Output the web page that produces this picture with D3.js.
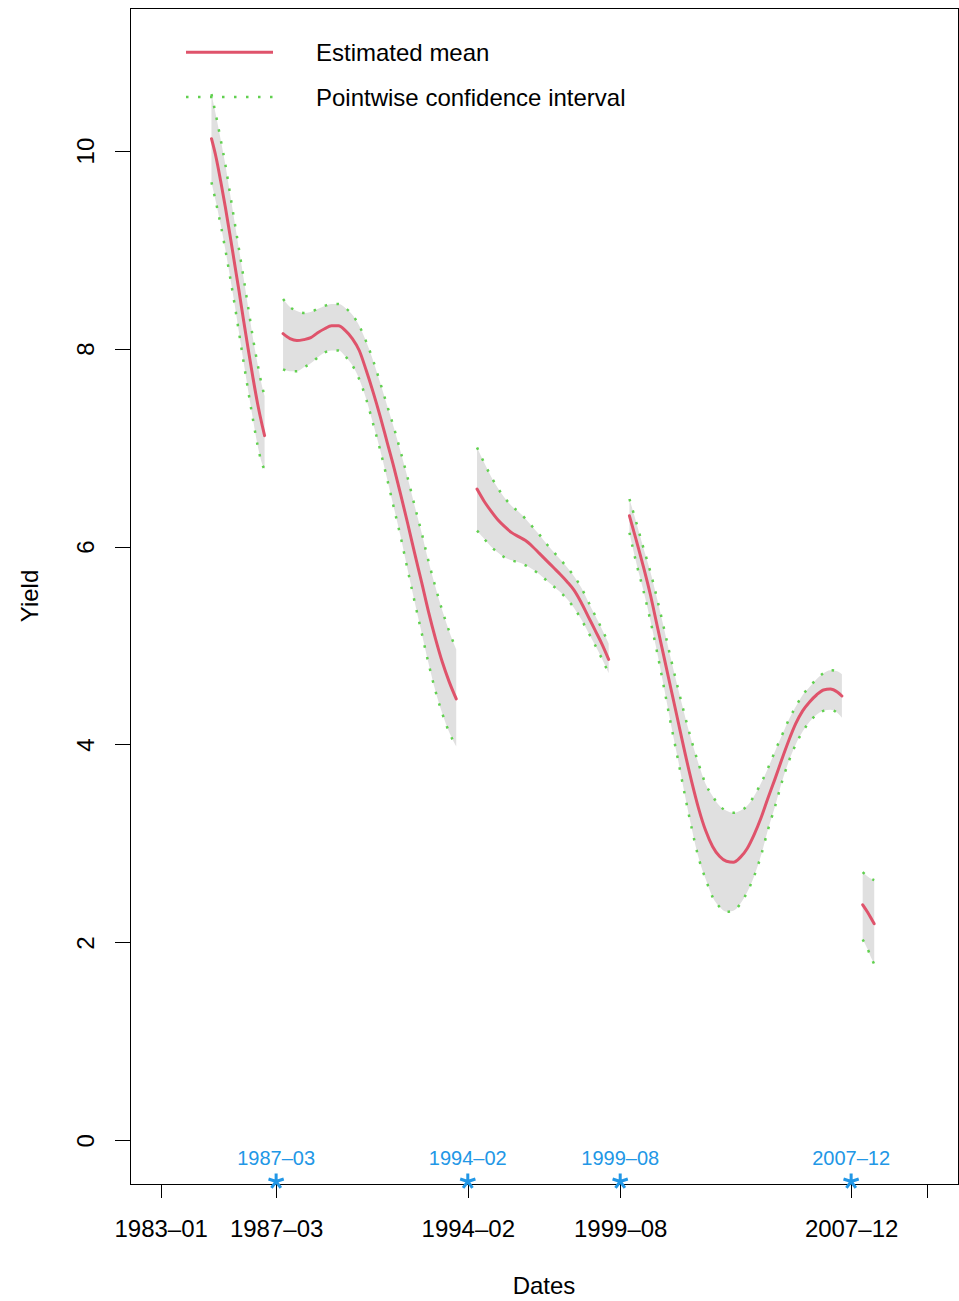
<!DOCTYPE html>
<html>
<head>
<meta charset="utf-8">
<script src="https://cdn.jsdelivr.net/npm/d3@7"></script>
<style>
  html, body { margin: 0; padding: 0; background: #ffffff; }
  svg { display: block; font-family: "Liberation Sans", Arial, Helvetica, sans-serif; }
</style>
</head>
<body>
<svg id="chart" width="959" height="1301"></svg>
<script>
// ---------------- DATA ----------------
// x-axis tick dates (the last tick's label is dropped because it would overlap)
const axisDates  = ["1983-01", "1987-03", "1994-02", "1999-08", "2007-12", "2010-09"];
const axisLabels = ["1983\u201301", "1987\u201303", "1994\u201302", "1999\u201308", "2007\u201312", "2010\u201309"];
// detected break dates (blue stars)
const breakDates  = ["1987-03", "1994-02", "1999-08", "2007-12"];
const breakLabels = ["1987\u201303", "1994\u201302", "1999\u201308", "2007\u201312"];
const yTicks = [0, 2, 4, 6, 8, 10];
const yLimits = [0, 11];

// Segment 1
const seg1Dates = ["1984-11","1985-01","1985-03","1985-05","1985-07","1985-09","1985-11","1986-01","1986-03","1986-05","1986-07","1986-09","1986-10"];
const seg1Mean  = [10.12, 9.93, 9.69, 9.43, 9.15, 8.86, 8.57, 8.27, 7.98, 7.70, 7.44, 7.22, 7.12];
const seg1Upper = [10.57, 10.35, 10.11, 9.86, 9.57, 9.28, 8.99, 8.70, 8.40, 8.10, 7.84, 7.61, 7.52];
const seg1Lower = [9.68, 9.47, 9.25, 9.00, 8.73, 8.45, 8.15, 7.85, 7.56, 7.28, 7.02, 6.83, 6.78];

// Segment 2
const seg2Dates = ["1987-06","1987-09","1987-12","1988-03","1988-06","1988-09","1988-12","1989-03","1989-06","1989-09","1989-12","1990-03","1990-06","1990-09","1990-12","1991-03","1991-06","1991-09","1991-12","1992-03","1992-06","1992-09","1992-12","1993-03","1993-06","1993-09"];
const seg2Mean  = [8.15, 8.10, 8.08, 8.09, 8.11, 8.16, 8.20, 8.23, 8.23, 8.18, 8.10, 7.98, 7.78, 7.56, 7.32, 7.06, 6.80, 6.52, 6.23, 5.93, 5.64, 5.34, 5.07, 4.83, 4.63, 4.46];
const seg2Upper = [8.50, 8.42, 8.38, 8.36, 8.37, 8.40, 8.43, 8.45, 8.45, 8.41, 8.34, 8.23, 8.07, 7.88, 7.66, 7.43, 7.20, 6.95, 6.69, 6.41, 6.14, 5.85, 5.59, 5.35, 5.14, 4.96];
const seg2Lower = [7.79, 7.77, 7.77, 7.81, 7.85, 7.91, 7.96, 7.98, 7.98, 7.92, 7.83, 7.69, 7.49, 7.24, 6.98, 6.69, 6.39, 6.09, 5.76, 5.44, 5.13, 4.82, 4.54, 4.31, 4.12, 3.98];

// Segment 3
const seg3Dates = ["1994-06","1994-09","1994-12","1995-03","1995-06","1995-09","1995-12","1996-03","1996-06","1996-09","1996-12","1997-03","1997-06","1997-09","1997-12","1998-03","1998-06","1998-09","1998-12","1999-03"];
const seg3Mean  = [6.58, 6.46, 6.36, 6.27, 6.20, 6.14, 6.10, 6.06, 6.00, 5.93, 5.86, 5.79, 5.72, 5.645, 5.56, 5.44, 5.30, 5.16, 5.02, 4.86];
const seg3Upper = [7.00, 6.85, 6.71, 6.59, 6.49, 6.41, 6.35, 6.28, 6.20, 6.12, 6.03, 5.95, 5.87, 5.79, 5.70, 5.59, 5.45, 5.31, 5.17, 5.02];
const seg3Lower = [6.16, 6.08, 6.00, 5.94, 5.89, 5.86, 5.84, 5.81, 5.77, 5.72, 5.66, 5.60, 5.54, 5.47, 5.38, 5.27, 5.14, 5.01, 4.87, 4.72];

// Segment 4
const seg4Dates = ["1999-12","2000-03","2000-06","2000-09","2000-12","2001-03","2001-06","2001-09","2001-12","2002-03","2002-06","2002-09","2002-12","2003-03","2003-06","2003-09","2003-12","2004-03","2004-06","2004-09","2004-12","2005-03","2005-06","2005-09","2005-12","2006-03","2006-06","2006-09","2006-12","2007-03","2007-06","2007-08"];
const seg4Mean  = [6.31, 6.06, 5.80, 5.52, 5.20, 4.88, 4.56, 4.24, 3.92, 3.62, 3.35, 3.13, 2.97, 2.87, 2.82, 2.81, 2.86, 2.95, 3.09, 3.26, 3.46, 3.65, 3.85, 4.04, 4.21, 4.34, 4.43, 4.50, 4.55, 4.56, 4.53, 4.49];
const seg4Upper = [6.48, 6.24, 5.99, 5.75, 5.47, 5.17, 4.86, 4.57, 4.29, 4.03, 3.80, 3.60, 3.48, 3.38, 3.33, 3.31, 3.33, 3.38, 3.48, 3.61, 3.76, 3.93, 4.09, 4.25, 4.38, 4.50, 4.58, 4.66, 4.72, 4.75, 4.74, 4.71];
const seg4Lower = [6.14, 5.83, 5.56, 5.26, 4.93, 4.57, 4.20, 3.85, 3.49, 3.15, 2.85, 2.64, 2.46, 2.36, 2.31, 2.32, 2.39, 2.51, 2.67, 2.88, 3.14, 3.37, 3.62, 3.83, 4.00, 4.13, 4.23, 4.30, 4.34, 4.35, 4.32, 4.27];

// Segment 5
const seg5Dates = ["2008-05","2008-07","2008-09","2008-10"];
const seg5Mean  = [2.38, 2.31, 2.23, 2.19];
const seg5Upper = [2.71, 2.67, 2.64, 2.63];
const seg5Lower = [2.03, 1.94, 1.83, 1.78];

const legendLabels = ["Estimated mean", "Pointwise confidence interval"];
const xTitle = "Dates";
const yTitle = "Yield";

// ---------------- STYLE ----------------
const COL_MEAN = "#DF536B";
const COL_CI   = "#61D04F";
const COL_FILL = "#E0E0E0";
const COL_BRK  = "#2297E6";

// ---------------- BUILD ----------------
const toMonth = s => { const p = s.split("-").map(Number); return (p[0] - 1983) * 12 + (p[1] - 1); };

const segments = [
  [seg1Dates, seg1Mean, seg1Upper, seg1Lower],
  [seg2Dates, seg2Mean, seg2Upper, seg2Lower],
  [seg3Dates, seg3Mean, seg3Upper, seg3Lower],
  [seg4Dates, seg4Mean, seg4Upper, seg4Lower],
  [seg5Dates, seg5Mean, seg5Upper, seg5Lower]
].map(([d, m, u, l]) => d.map((s, i) => ({ t: toMonth(s), mean: m[i], upper: u[i], lower: l[i] })));

const plot = { left: 130, right: 958, top: 8, bottom: 1184 };
const svg = d3.select("#chart");

const tMin = toMonth(axisDates[0]), tMax = toMonth(axisDates[axisDates.length - 1]);
const xPad = (tMax - tMin) * 0.04;
const x = d3.scaleLinear().domain([tMin - xPad, tMax + xPad]).range([plot.left, plot.right]);
const yPad = (yLimits[1] - yLimits[0]) * 0.04;
const y = d3.scaleLinear().domain([yLimits[0] - yPad, yLimits[1] + yPad]).range([plot.bottom, plot.top]);

const curve = d3.curveMonotoneX;
const area = d3.area().x(d => x(d.t)).y0(d => y(d.lower)).y1(d => y(d.upper)).curve(curve);
const lineMean = d3.line().x(d => x(d.t)).y(d => y(d.mean)).curve(curve);
const lineUp = d3.line().x(d => x(d.t)).y(d => y(d.upper)).curve(curve);
const lineLo = d3.line().x(d => x(d.t)).y(d => y(d.lower)).curve(curve);

// bands
svg.append("g").selectAll("path").data(segments).join("path")
  .attr("d", area).attr("fill", COL_FILL).attr("stroke", "none");

// mean lines
svg.append("g").selectAll("path").data(segments).join("path")
  .attr("d", lineMean).attr("fill", "none").attr("stroke", COL_MEAN)
  .attr("stroke-width", 3).attr("stroke-linejoin", "round").attr("stroke-linecap", "round");

// CI dotted lines
const ciG = svg.append("g");
[lineUp, lineLo].forEach(gen => {
  ciG.append("g").selectAll("path").data(segments).join("path")
    .attr("d", gen).attr("fill", "none").attr("stroke", COL_CI)
    .attr("stroke-width", 2.5).attr("stroke-dasharray", "2.5 9.5");
});

// plot box
svg.append("rect")
  .attr("x", plot.left).attr("y", plot.top)
  .attr("width", plot.right - plot.left).attr("height", plot.bottom - plot.top)
  .attr("fill", "none").attr("stroke", "#000").attr("stroke-width", 1)
  .attr("shape-rendering", "crispEdges");

// x axis
const xAxis = svg.append("g")
  .attr("transform", `translate(0,${plot.bottom})`)
  .call(d3.axisBottom(x).tickValues(axisDates.map(toMonth)).tickSize(14).tickSizeOuter(0)
    .tickFormat((d, i) => axisLabels[i]));
xAxis.select(".domain").remove();
xAxis.selectAll(".tick line").attr("stroke", "#000").attr("stroke-width", 1).attr("shape-rendering", "crispEdges");
xAxis.selectAll(".tick text")
  .attr("y", 52.5).attr("dy", 0).attr("fill", "#000")
  .style("font-size", "24px").style("font-family", "'Liberation Sans', Arial, sans-serif");
// drop labels that would overlap a previously drawn one (as R does)
let lastRight = -Infinity;
xAxis.selectAll(".tick text").each(function () {
  const b = this.getBBox();
  const cx = +this.parentNode.getAttribute("transform").match(/translate\(([-\d.]+)/)[1];
  const l = cx - b.width / 2, r = cx + b.width / 2;
  if (l < lastRight + 6) { d3.select(this).remove(); } else { lastRight = r; }
});

// y axis
const yAxis = svg.append("g")
  .attr("transform", `translate(${plot.left},0)`)
  .call(d3.axisLeft(y).tickValues(yTicks).tickSize(15).tickSizeOuter(0).tickFormat(d3.format("d")));
yAxis.select(".domain").remove();
yAxis.selectAll(".tick line").attr("stroke", "#000").attr("stroke-width", 1).attr("shape-rendering", "crispEdges");
yAxis.selectAll(".tick text")
  .attr("x", 0).attr("y", 0).attr("dy", 0)
  .attr("transform", "translate(-36,0) rotate(-90)")
  .attr("text-anchor", "middle").attr("fill", "#000")
  .style("font-size", "24px").style("font-family", "'Liberation Sans', Arial, sans-serif");

// axis titles
svg.append("text").attr("x", (plot.left + plot.right) / 2).attr("y", 1293.5)
  .attr("text-anchor", "middle").style("font-size", "24px").text(xTitle);
svg.append("text").attr("transform", `translate(38.3,${(plot.top + plot.bottom) / 2}) rotate(-90)`)
  .attr("text-anchor", "middle").style("font-size", "24px").text(yTitle);

// break markers: five-armed asterisk symbol (like pch = "*")
const asterisk5 = {
  draw(ctx, size) {
    const r = Math.sqrt(size) / 2;
    for (let k = 0; k < 5; k++) {
      const a = -Math.PI / 2 + k * 2 * Math.PI / 5;
      ctx.moveTo(0, 0);
      ctx.lineTo(r * Math.cos(a), r * Math.sin(a));
    }
  }
};
const brkG = svg.append("g");
brkG.selectAll("path.star").data(breakDates).join("path").attr("class", "star")
  .attr("transform", d => `translate(${x(toMonth(d))},1181.5)`)
  .attr("d", d3.symbol().type(asterisk5).size(16 * 16))
  .attr("fill", "none").attr("stroke", COL_BRK).attr("stroke-width", 3).attr("stroke-linecap", "butt");
brkG.selectAll("text.blab").data(breakLabels).join("text").attr("class", "blab")
  .attr("x", (d, i) => x(toMonth(breakDates[i]))).attr("y", 1165)
  .attr("text-anchor", "middle").attr("fill", COL_BRK)
  .style("font-size", "20px").text(d => d);

// legend
const lg = svg.append("g");
lg.append("line").attr("x1", 186).attr("x2", 273).attr("y1", 52.3).attr("y2", 52.3)
  .attr("stroke", COL_MEAN).attr("stroke-width", 3);
lg.append("line").attr("x1", 186).attr("x2", 273).attr("y1", 97).attr("y2", 97)
  .attr("stroke", COL_CI).attr("stroke-width", 2.5).attr("stroke-dasharray", "2.5 9.5");
lg.append("text").attr("x", 316).attr("y", 61.3).style("font-size", "24px").text(legendLabels[0]);
lg.append("text").attr("x", 316).attr("y", 105.7).style("font-size", "24px").text(legendLabels[1]);
</script>
</body>
</html>
